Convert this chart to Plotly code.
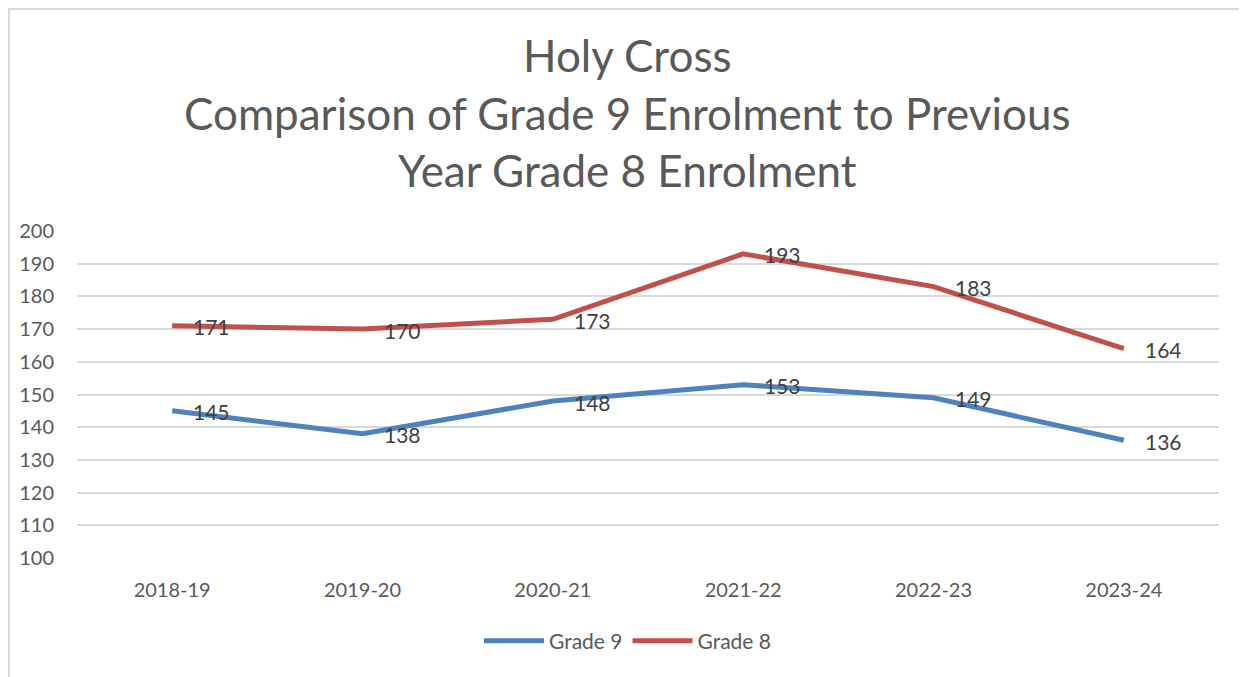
import plotly.graph_objects as go

categories = ["2018-19", "2019-20", "2020-21", "2021-22", "2022-23", "2023-24"]
grade9 = [145, 138, 148, 153, 149, 136]
grade8 = [171, 170, 173, 193, 183, 164]
y_ticks = [100, 110, 120, 130, 140, 150, 160, 170, 180, 190, 200]
title_lines = ["Holy Cross", "Comparison of Grade 9 Enrolment to Previous", "Year Grade 8 Enrolment"]

FONT = "Lato"
BLUE = "#4F81BD"
RED = "#C0504D"

# page is offset by 8px body margin
L, T, PW, PH = 69, 223, 1142, 327
W, H = 1239, 669
XC = (W / 2 - L - PW / 2) / PW  # paper x of figure centre offset

fig = go.Figure()
fig.add_trace(go.Scatter(x=categories, y=grade9, mode="lines", name="Grade 9",
                         line=dict(color=BLUE, width=5)))
fig.add_trace(go.Scatter(x=categories, y=grade8, mode="lines", name="Grade 8",
                         line=dict(color=RED, width=5)))

for series in (grade9, grade8):
    for c, v in zip(categories, series):
        fig.add_annotation(x=c, y=v, text=str(v), showarrow=False, xanchor="left",
                           xshift=19, yshift=-1,
                           font=dict(family=FONT, size=21, color="#404040"))

for line, ypix in zip(title_lines, [47, 105, 162]):
    fig.add_annotation(xref="paper", yref="paper", x=0.5 + XC,
                       y=1 + (T - ypix) / PH, text=line, showarrow=False,
                       xanchor="center", yanchor="middle",
                       font=dict(family=FONT, size=44, color="#595959"))

# chart border (top and left)
fig.add_shape(type="line", xref="paper", yref="paper", x0=-L / PW, x1=1 + (W - L - PW) / PW,
              y0=1 + (T - 1) / PH, y1=1 + (T - 1) / PH, line=dict(color="#D9D9D9", width=2))
fig.add_shape(type="line", xref="paper", yref="paper", x0=-(L - 1) / PW, x1=-(L - 1) / PW,
              y0=-(H - T - PH) / PH, y1=1 + T / PH, line=dict(color="#D9D9D9", width=2))

fig.update_layout(
    width=W, height=H,
    margin=dict(l=L, r=W - L - PW, t=T, b=H - T - PH),
    paper_bgcolor="white", plot_bgcolor="white",
    xaxis=dict(type="category", range=[-0.5, 5.5], showgrid=False, zeroline=False,
               showline=False, ticks="", ticklabelstandoff=18,
               tickfont=dict(family=FONT, size=20, color="#595959")),
    yaxis=dict(range=[100, 200], tickvals=y_ticks, showgrid=True, gridcolor="#D9D9D9",
               gridwidth=1.5, zeroline=False, showline=False, ticks="", ticklabelstandoff=22,
               tickfont=dict(family=FONT, size=20, color="#595959")),
    legend=dict(orientation="h", x=0.5 + XC, xanchor="center",
                y=-83 / PH, yanchor="middle",
                font=dict(family=FONT, size=21, color="#595959"), itemwidth=60),
    showlegend=True,
)

fig.write_html("out.html")
